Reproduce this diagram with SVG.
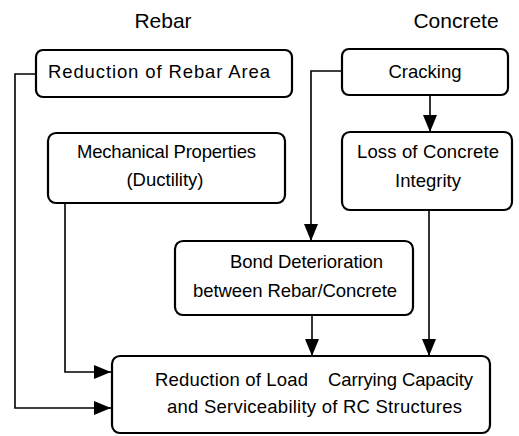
<svg xmlns="http://www.w3.org/2000/svg" width="519" height="436" viewBox="0 0 519 436">
<defs>
<style>
.box{fill:#fff;stroke:#000;stroke-width:2.2}
.t{font-family:"Liberation Sans",Arial,sans-serif;font-size:18.5px;fill:#000}
.h{font-family:"Liberation Sans",Arial,sans-serif;font-size:21px;fill:#000;text-anchor:middle}
.c{text-anchor:middle}
.ln{fill:none;stroke:#000;stroke-width:1.6}
</style>
<marker id="ah" viewBox="0 0 17 14" refX="17" refY="7" markerWidth="17" markerHeight="14" markerUnits="userSpaceOnUse" orient="auto">
<path d="M0,0 L17,7 L0,14 Z" fill="#000"/>
</marker>
</defs>
<rect width="519" height="436" fill="#fff"/>
<text class="h" x="163" y="28">Rebar</text>
<text class="h" x="456" y="28">Concrete</text>

<g id="connectors">
<path class="ln" d="M36,74 H15 V408 H111" marker-end="url(#ah)"/>
<path class="ln" d="M65,203 V372 H111" marker-end="url(#ah)"/>
<path class="ln" d="M342,71 H311 V241" marker-end="url(#ah)"/>
<path class="ln" d="M430,95 V132" marker-end="url(#ah)"/>
<path class="ln" d="M429,210 V356" marker-end="url(#ah)"/>
<path class="ln" d="M312,315 V356" marker-end="url(#ah)"/>
</g>

<g id="rebar-area">
<rect class="box" x="36" y="50" width="256" height="47" rx="7"/>
<text class="t" x="48" y="78" textLength="222" lengthAdjust="spacing">Reduction of Rebar Area</text>
</g>
<g id="cracking">
<rect class="box" x="342" y="49" width="166" height="46" rx="7"/>
<text class="t c" x="425" y="78">Cracking</text>
</g>
<g id="mechanical">
<rect class="box" x="48" y="133" width="237" height="70" rx="8"/>
<text class="t" x="77" y="158" textLength="179" lengthAdjust="spacing">Mechanical Properties</text>
<text class="t c" x="165" y="186">(Ductility)</text>
</g>
<g id="loss">
<rect class="box" x="342" y="132" width="170" height="78" rx="8"/>
<text class="t" x="357" y="158" textLength="142" lengthAdjust="spacing">Loss of Concrete</text>
<text class="t c" x="428" y="187">Integrity</text>
</g>
<g id="bond">
<rect class="box" x="175" y="241" width="238" height="74" rx="8"/>
<text class="t" x="230" y="268" textLength="153" lengthAdjust="spacing">Bond Deterioration</text>
<text class="t" x="193" y="297" textLength="204" lengthAdjust="spacing">between Rebar/Concrete</text>
</g>
<g id="final">
<rect class="box" x="112" y="356" width="378" height="77" rx="8"/>
<text class="t" y="386"><tspan x="155" textLength="153" lengthAdjust="spacing">Reduction of Load</tspan><tspan x="328" textLength="145" lengthAdjust="spacing">Carrying Capacity</tspan></text>
<text class="t" x="167" y="413" textLength="295" lengthAdjust="spacing">and Serviceability of RC Structures</text>
</g>
</svg>
